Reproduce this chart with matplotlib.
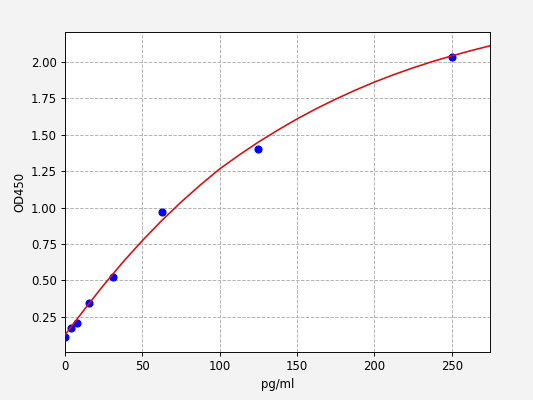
import matplotlib
matplotlib.use('Agg')
import matplotlib.pyplot as plt

# standard points
conc = [0, 3.9, 7.8, 15.6, 31.25, 62.5, 125, 250]
od = [0.11, 0.175, 0.21, 0.345, 0.525, 0.97, 1.40, 2.035]

# fitted curve
curve_x = [0, 12.5, 25, 37.5, 50, 62.5, 75, 87.5, 100, 112.5, 125, 137.5,
           150, 162.5, 175, 187.5, 200, 212.5, 225, 237.5, 250, 262.5, 275]
curve_y = [0.125, 0.300, 0.468, 0.626, 0.773, 0.910, 1.037, 1.155, 1.265,
           1.360, 1.449, 1.531, 1.608, 1.679, 1.744, 1.805, 1.861, 1.912,
           1.959, 2.002, 2.041, 2.077, 2.111]

dpi = 250 / 3
fig = plt.figure(figsize=(533 / dpi, 400 / dpi), dpi=dpi, facecolor='#f3f3f3')
ax = fig.add_axes([0.122, 0.12, 0.798, 0.80])

ax.scatter(conc, od, color='blue', s=36, zorder=3)
ax.plot(curve_x, curve_y, color='#d81010', lw=1.4, zorder=4)

ax.set_xlim(0, 275)
ax.set_ylim(0.008, 2.205)
ax.set_yticks([0.25, 0.5, 0.75, 1.0, 1.25, 1.5, 1.75, 2.0])
ax.grid(True, linestyle='--', color='#b0b0b0', lw=0.8)
ax.set_xlabel('pg/ml')
ax.set_ylabel('OD450')

plt.savefig('out.png', dpi=dpi, facecolor=fig.get_facecolor())
